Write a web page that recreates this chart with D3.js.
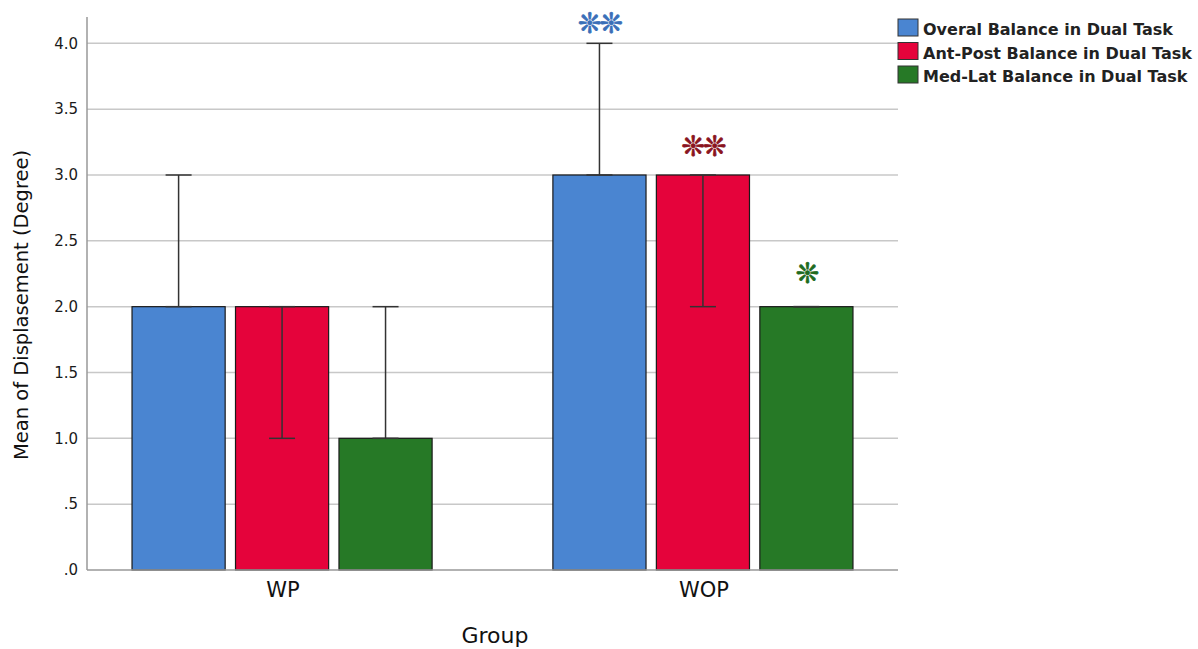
<!DOCTYPE html>
<html>
<head>
<meta charset="utf-8">
<script src="https://cdn.jsdelivr.net/npm/d3@7"></script>
<style>
  body { margin: 0; background: #fff; }
  text { font-family: "DejaVu Sans", Verdana, sans-serif; }
</style>
</head>
<body>
<div id="chart"></div>
<script>
const groups = ['WP', 'WOP'];
const series = ['Overal Balance in Dual Task', 'Ant-Post Balance in Dual Task', 'Med-Lat Balance in Dual Task'];
const means = [[2, 2, 1], [3, 3, 2]];
const err_low = [[2, 1, 1], [3, 2, 2]];
const err_high = [[3, 2, 2], [4, 3, 2]];
const y_ticks = [0, 0.5, 1, 1.5, 2, 2.5, 3, 3.5, 4];
const y_tick_labels = ['.0', '.5', '1.0', '1.5', '2.0', '2.5', '3.0', '3.5', '4.0'];
// significance marks above WOP bars (value = height of the mark's centre)
const stars = [{ group: 'WOP', s: 0, text: '❊❊', value: 4.16 }, { group: 'WOP', s: 1, text: '❊❊', value: 3.23 }, { group: 'WOP', s: 2, text: '❊', value: 2.26 }];

const colors = ['#4a85d1', '#e5033b', '#267926'];
const star_colors = ['#3a6fb8', '#8a1420', '#1f6b1f'];

const width = 1198, height = 649;
const svg = d3.select('#chart').append('svg')
    .attr('width', width)
    .attr('height', height);

const plot_left = 87, plot_right = 898, plot_top = 17, plot_bottom = 570;

let y = d3.scaleLinear().domain([0, 4.2]).range([plot_bottom, plot_top]);
let x0 = d3.scaleBand().domain(groups).range([plot_left, plot_right]).paddingInner(0.287).paddingOuter(0.107);
let x1 = d3.scaleBand().domain(d3.range(series.length)).range([0, x0.bandwidth()]).paddingInner(0.1);

// gridlines
svg.append('g').selectAll('line').data(y_ticks.filter(d => d > 0)).join('line')
    .attr('x1', plot_left).attr('x2', plot_right)
    .attr('y1', d => y(d)).attr('y2', d => y(d))
    .style('stroke', '#c8c8c8')
    .style('stroke-width', 1.5);

// y axis
let y_axis = svg.append('g').attr('transform', 'translate(' + plot_left + ',0)')
    .call(d3.axisLeft(y).tickValues(y_ticks).tickFormat((d, i) => y_tick_labels[i]).tickSize(0).tickPadding(9));
y_axis.select('.domain').remove();
y_axis.selectAll('.tick text').style('font-size', '15px').style('fill', '#1a1a1a');
svg.append('line')
    .attr('x1', plot_left).attr('x2', plot_left).attr('y1', plot_top).attr('y2', plot_bottom)
    .style('stroke', '#999').style('stroke-width', 1.5);

// bars
groups.forEach(function (g, gi) {
    let gx = x0(g);
    series.forEach(function (s, si) {
        svg.append('rect')
            .attr('x', gx + x1(si))
            .attr('y', y(means[gi][si]))
            .attr('width', x1.bandwidth())
            .attr('height', y(0) - y(means[gi][si]))
            .style('fill', colors[si])
            .style('stroke', '#1a1a1a')
            .style('stroke-width', 1.2);
    });
});

// x axis line
svg.append('line')
    .attr('x1', plot_left).attr('x2', plot_right).attr('y1', plot_bottom).attr('y2', plot_bottom)
    .style('stroke', '#999').style('stroke-width', 1.5);

// error bars
groups.forEach(function (g, gi) {
    series.forEach(function (s, si) {
        let cx = x0(g) + x1(si) + x1.bandwidth() / 2;
        let eb = svg.append('g').style('stroke', '#333').style('stroke-width', 1.5);
        eb.append('line').attr('x1', cx).attr('x2', cx)
            .attr('y1', y(err_low[gi][si])).attr('y2', y(err_high[gi][si]));
        [err_low[gi][si], err_high[gi][si]].forEach(function (v) {
            eb.append('line').attr('x1', cx - 13).attr('x2', cx + 13)
                .attr('y1', y(v)).attr('y2', y(v));
        });
    });
});

// stars
stars.forEach(function (st) {
    let cx = x0(st.group) + x1(st.s) + x1.bandwidth() / 2;
    svg.append('text')
        .attr('x', cx)
        .attr('y', y(st.value) + 11)
        .style('text-anchor', 'middle')
        .style('font-size', '28px')
        .style('letter-spacing', '-2px')
        .style('fill', star_colors[st.s])
        .style('stroke', star_colors[st.s])
        .style('stroke-width', 0.8)
        .text(st.text);
});

// x labels
svg.append('g').selectAll('text').data(groups).join('text')
    .attr('x', d => x0(d) + x0.bandwidth() / 2 + 1)
    .attr('y', 597)
    .style('text-anchor', 'middle')
    .style('font-size', '21px')
    .style('fill', '#111')
    .text(d => d);

svg.append('text')
    .attr('x', 495).attr('y', 643)
    .style('text-anchor', 'middle')
    .style('font-size', '22px')
    .style('fill', '#111')
    .text('Group');

svg.append('text')
    .attr('transform', 'translate(28,' + 305 + ') rotate(-90)')
    .style('text-anchor', 'middle')
    .style('font-size', '19.5px')
    .style('fill', '#111')
    .text('Mean of Displasement (Degree)');

// legend
let legend = svg.append('g').attr('transform', 'translate(898,19)');
series.forEach(function (s, i) {
    legend.append('rect')
        .attr('x', 0).attr('y', i * 23.5)
        .attr('width', 20).attr('height', 17)
        .style('fill', colors[i])
        .style('stroke', '#333')
        .style('stroke-width', 1);
    legend.append('text')
        .attr('x', 25).attr('y', i * 23.5 + 16)
        .style('font-size', '16px')
        .style('font-weight', 'bold')
        .style('fill', '#222')
        .text(s);
});
</script>
</body>
</html>
